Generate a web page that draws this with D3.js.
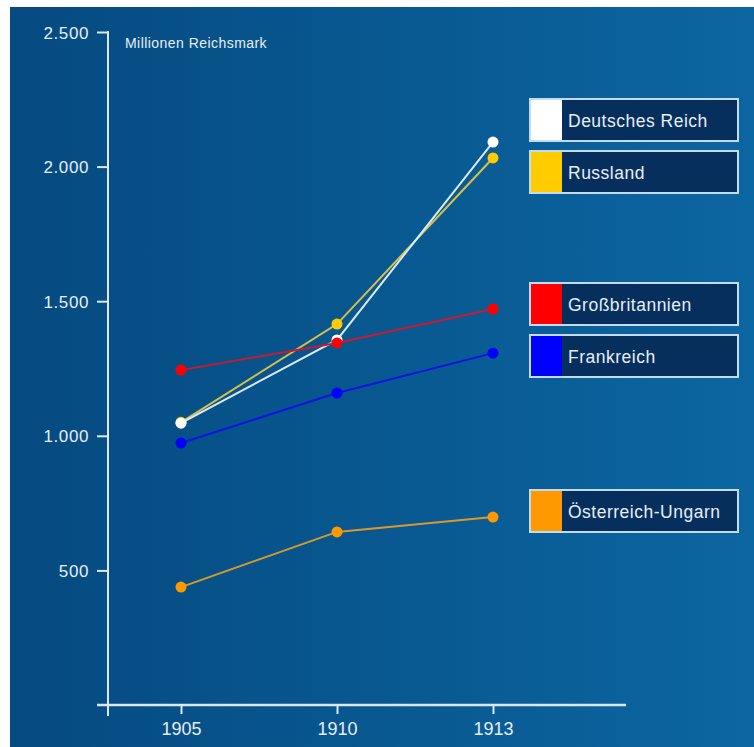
<!DOCTYPE html>
<html>
<head>
<meta charset="utf-8">
<script src="https://cdn.jsdelivr.net/npm/d3@7/dist/d3.min.js"></script>
<style>
html,body{margin:0;padding:0;background:#fff;}
svg{display:block;}
</style>
</head>
<body>
<svg id="chart" width="754" height="747"></svg>
<script>
const years = ["1905", "1910", "1913"];
const seriesNames = ["Österreich-Ungarn", "Frankreich", "Russland", "Deutsches Reich", "Großbritannien"];
const austria = [438, 643, 698];
const france = [973, 1159, 1307];
const russia = [1050, 1415, 2032];
const germany = [1047, 1356, 2091];
const britain = [1244, 1345, 1471];
const yTicks = [500, 1000, 1500, 2000, 2500];
const legendOrder = ["Deutsches Reich", "Russland", "Großbritannien", "Frankreich", "Österreich-Ungarn"];
const unitLabel = "Millionen Reichsmark";

const values = [austria, france, russia, germany, britain];
const lineColors = {"Österreich-Ungarn":"#d8992c","Frankreich":"#0a14e6","Russland":"#d8c04a","Deutsches Reich":"#dce8f2","Großbritannien":"#c81a30"};
const dotColors = {"Österreich-Ungarn":"#ff9900","Frankreich":"#0000ff","Russland":"#ffcc00","Deutsches Reich":"#ffffff","Großbritannien":"#ff0000"};

const svg = d3.select("#chart");
const defs = svg.append("defs");
const grad = defs.append("linearGradient").attr("id","bg").attr("x1","0").attr("x2","1").attr("y1","0").attr("y2","0");
grad.append("stop").attr("offset","0").attr("stop-color","#054a80");
grad.append("stop").attr("offset","1").attr("stop-color","#0c66a1");
svg.append("rect").attr("x",10).attr("y",7).attr("width",744).attr("height",740).attr("fill","url(#bg)");

const x = d3.scalePoint().domain(years).range([181, 493]);
const y = d3.scaleLinear().domain([0, 2500]).range([705, 32]);
const de = d3.formatLocale({decimal:",", thousands:".", grouping:[3], currency:["","€"]});
const fmt = de.format(",d");
const axisColor = "#dde7f0";
const textColor = "#e6eef6";
const font = "'Liberation Sans', Arial, sans-serif";

// Y axis
const yAxis = svg.append("g").attr("transform","translate(108,0)")
  .call(d3.axisLeft(y).tickValues(yTicks).tickFormat(fmt).tickSize(11).tickPadding(8).tickSizeOuter(0));
yAxis.select(".domain").remove();
yAxis.selectAll(".tick line").attr("stroke",axisColor).attr("stroke-width",2);
yAxis.selectAll(".tick text").attr("fill",textColor).style("font-family",font)
  .style("font-size","17px").style("letter-spacing","0.6px").attr("dy","0.36em");
svg.append("line").attr("x1",108).attr("x2",108).attr("y1",y(2500)-1).attr("y2",y(0)+11)
  .attr("stroke",axisColor).attr("stroke-width",2);

// X axis
const xAxis = svg.append("g").attr("transform","translate(0,705)")
  .call(d3.axisBottom(x).tickSize(9).tickPadding(8).tickSizeOuter(0));
xAxis.select(".domain").remove();
xAxis.selectAll(".tick line").attr("stroke",axisColor).attr("stroke-width",2);
xAxis.selectAll(".tick text").attr("fill",textColor).style("font-family",font).style("font-size","18px");
svg.append("line").attr("x1",97).attr("x2",626).attr("y1",705).attr("y2",705)
  .attr("stroke",axisColor).attr("stroke-width",2.5);

svg.append("text").attr("x",125).attr("y",48).text(unitLabel)
  .attr("fill",textColor).style("font-family",font).style("font-size","14px").style("letter-spacing","0.45px");

// series
const line = d3.line().x((d,i)=>x(years[i])).y(d=>y(d));
seriesNames.forEach((name, si) => {
  const g = svg.append("g");
  g.append("path").datum(values[si]).attr("d", line).attr("fill","none")
    .attr("stroke", lineColors[name]).attr("stroke-width", 2);
  g.selectAll("circle").data(values[si]).join("circle")
    .attr("cx",(d,i)=>x(years[i])).attr("cy",d=>y(d)).attr("r",5.5)
    .attr("fill", dotColors[name]);
});

// legend
const legendTop = [99, 151, 283, 335, 490];
legendOrder.forEach((name, i) => {
  const g = svg.append("g").attr("transform", `translate(530,${legendTop[i]})`);
  g.append("rect").attr("x",0).attr("y",0).attr("width",208).attr("height",42)
    .attr("fill","#062f5e").attr("stroke","#c4dbec").attr("stroke-width",2);
  g.append("rect").attr("x",1).attr("y",1).attr("width",31).attr("height",40).attr("fill",dotColors[name]);
  g.append("text").attr("x",38).attr("y",28).text(name)
    .attr("fill",textColor).style("font-family",font).style("font-size","17.5px").style("letter-spacing","0.5px");
});
</script>
</body>
</html>
